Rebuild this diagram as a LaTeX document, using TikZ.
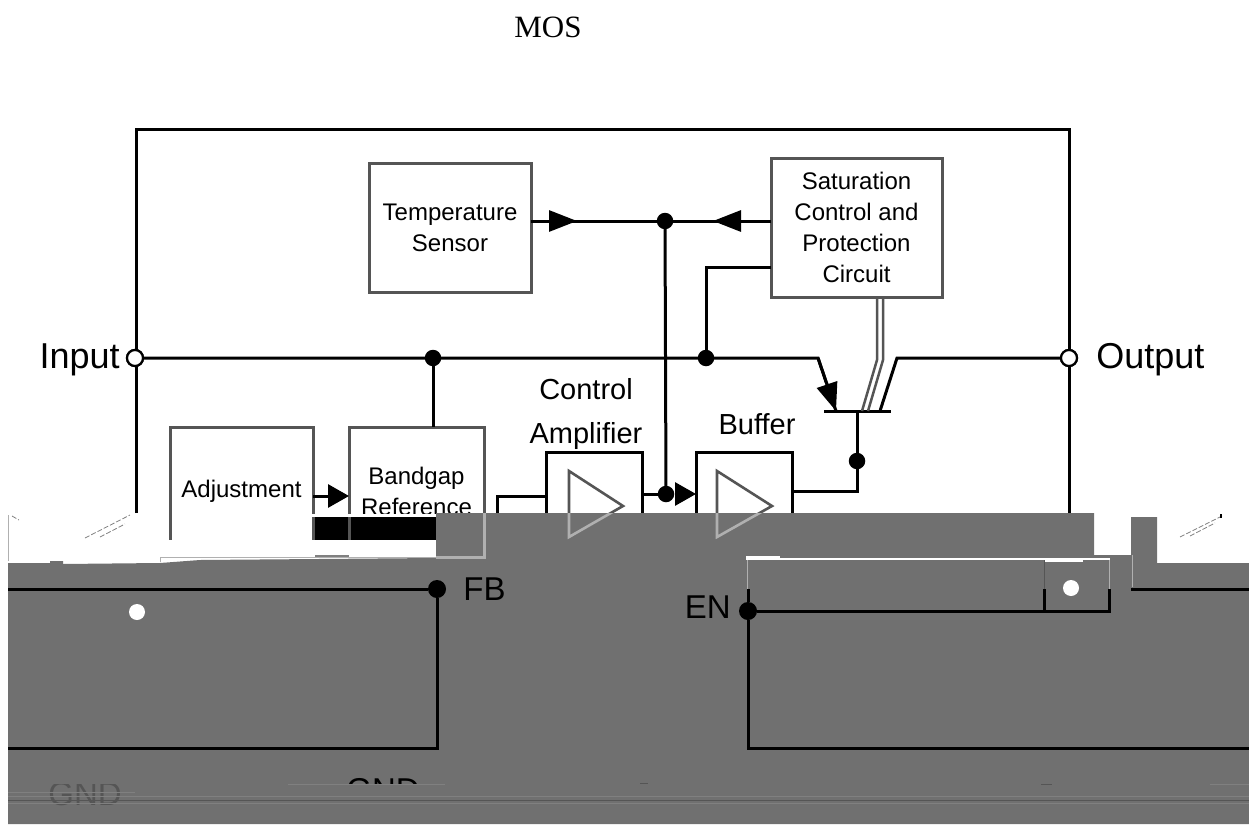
\documentclass[tikz,border=0pt]{standalone}
\usepackage{fontspec}
\setmainfont{Liberation Sans}
\newfontfamily\serifface{Liberation Serif}
\usetikzlibrary{arrows.meta,positioning}
\definecolor{boxGray}{HTML}{555555}
\definecolor{blockGray}{HTML}{707070}
\definecolor{paleGray}{HTML}{B0B0B0}
\definecolor{streakGray}{HTML}{808080}
\begin{document}
\begin{tikzpicture}[x=1pt,y=-1pt,
    boxn/.style={draw=boxGray, line width=3pt, outer sep=0pt, inner sep=0pt, align=center, font=\fontsize{24}{31}\selectfont},
    ampn/.style={draw=black, line width=3pt, outer sep=0pt, inner sep=0pt, minimum width=96pt, minimum height=108pt},
    wire/.style={line width=3pt},
    arr/.style={line width=3pt, -{Triangle[length=28pt,width=21pt]}},
    arrs/.style={line width=3pt, -{Triangle[length=21pt,width=23pt]}},
    gatel/.style={draw=boxGray, line width=2.5pt},
    tri/.style={draw=boxGray, line width=2.6pt, line join=miter},
    trilight/.style={draw=paleGray, line width=2.6pt, line join=miter},
    dotn/.style={circle, fill=black, inner sep=0pt, minimum size=16.5pt},
    bigdot/.style={circle, fill=black, inner sep=0pt, minimum size=18pt},
    pin/.style={circle, draw=black, fill=white, line width=2.2pt, inner sep=0pt, minimum size=16pt},
    holen/.style={circle, fill=white, inner sep=0pt, minimum size=16pt},
    lab/.style={inner sep=0pt, font=\fontsize{36}{40}\selectfont},
    sidelab/.style={inner sep=0pt, font=\fontsize{33}{40}\selectfont},
    amplab/.style={inner sep=0pt, align=center, font=\fontsize{29}{44}\selectfont},
    streak/.style={draw=streakGray, line width=1pt},
    speck/.style={draw=streakGray, line width=0.8pt, dash pattern=on 5pt off 2pt}
  ]
    \useasboundingbox (0,0) rectangle (1249,824);
    \node[inner sep=0pt, font=\serifface\fontsize{31}{34}\selectfont] (title) at (548,27) {MOS};
    \begin{scope}
      \clip (0,0) rectangle (1249,513);
      \node[pin] (vin) at (135,358) {};
      \node[pin] (vout) at (1069,358) {};
      \draw[wire] (136,513) -- (136,129) -- (1069,129) -- (1069,513);
      \node[pin] at (vin) {};
      \node[pin] at (vout) {};
      \node[lab, left=6pt of vin, yshift=-2pt] (inlab) {Input};
      \node[lab, right=18pt of vout, yshift=-2pt] (outlab) {Output};
      \node[boxn, minimum width=162pt, minimum height=129pt] (temp) at (450,227.5) {Temperature\\Sensor};
      \node[boxn, minimum width=171pt, minimum height=139pt, right=240pt of temp] (sat) {Saturation\\Control and\\Protection\\Circuit};
      \node[boxn, minimum width=143pt, minimum height=129pt] (adj) at (241.5,491.5) {Adjustment};
      \node[boxn, minimum width=135pt, minimum height=129pt, right=36pt of adj] (band) {Bandgap\\Reference};
      \node[ampn, right=62pt of band, yshift=-14.5pt] (ctrl) {};
      \node[ampn, right=54pt of ctrl] (buf) {};
      \node[amplab] (ctrllab) at (586,414) {Control\\Amplifier};
      \node[amplab] (buflab) at (757,424) {Buffer};
      \draw[tri] (569,471) -- (623,506) -- (569,537) -- cycle;
      \draw[tri] (717,471) -- (772,506) -- (717,537) -- cycle;
      \coordinate (bias) at (433,358);
      \coordinate (supply) at (706,358);
      \coordinate (hub) at (665,221);
      \coordinate (sum) at (666,494);
      \coordinate (bjtin) at (836,411);
      \coordinate (bjtout) at (880,411);
      \coordinate (bjtbase) at (857,411);
      \coordinate (kneeout) at (897,358);
      \coordinate (kneein) at (818,358);
      \draw[wire] (vin) -- (kneein) -- (bjtin);
      \draw[wire] (vout) -- (kneeout) -- (bjtout);
      \draw[wire] (824,411) -- (891,411);
      \draw[arr] (kneein) -- (bjtin);
      \draw[wire] (temp.east |- hub) -- (sat.west |- hub);
      \draw[arr] (temp.east |- hub) -- (577,221);
      \draw[arr] (sat.west |- hub) -- (713,221);
      \draw[wire] (hub) -- (sum);
      \draw[wire] (sat.west |- 0,267) -- (706,267) -- (supply);
      \draw[wire] (bias) -- (bias |- band.north);
      \draw[wire] (497,513) -- (497,496) -- (ctrl.west |- 0,496);
      \draw[wire] (ctrl.east |- sum) -- (sum);
      \draw[arrs] (sum) ++(9pt,0) -- (buf.west |- sum);
      \draw[arrs] (adj.east |- 0,496) -- (band.west |- 0,496);
      \draw[wire] (buf.east |- 0,491) -- (857,491) -- (bjtbase);
      \draw[gatel] (sat.south -| 877,0) -- (877,360) -- (862,411);
      \draw[gatel] (sat.south -| 883,0) -- (883,360) -- (868,411);
      \node[dotn] (d1) at (hub) {};
      \node[dotn] (d2) at (sum) {};
      \node[dotn] (d3) at (bias) {};
      \node[dotn] (d4) at (supply) {};
      \node[dotn] (d5) at (857,461) {};
    \end{scope}
    \fill[blockGray] (8,563) -- (50,563) -- (50,561) -- (63,561) -- (63,564) -- (160,563) -- (200,560) -- (436,558) -- (436,513) -- (1094,513) -- (1094,555) -- (1131,555) -- (1131,517) -- (1157,517) -- (1157,563) -- (1249,563) -- (1249,824) -- (8,824) -- cycle;
    \fill[black] (314,517) rectangle (436,540);
    \draw[draw=boxGray, line width=3pt] (170,513) -- (170,540);
    \draw[draw=boxGray, line width=3pt] (313,517) -- (313,540);
    \draw[draw=boxGray, line width=3pt] (349,517) -- (349,540);
    \draw[draw=streakGray, line width=2pt] (315,556) -- (349,556);
    \draw[draw=paleGray, line width=1pt] (160,562) -- (160,557) -- (436,557);
    \draw[draw=paleGray, line width=1pt] (8,515) -- (8,561);
    \draw[draw=paleGray, line width=3pt] (484,513) -- (484,557) -- (436,557);
    \begin{scope}
      \clip (0,513) rectangle (1249,600);
      \draw[trilight] (569,471) -- (623,506) -- (569,537) -- cycle;
      \draw[trilight] (717,471) -- (772,506) -- (717,537) -- cycle;
    \end{scope}
    \draw[draw=white, line width=4pt] (746,558) -- (780,558);
    \draw[draw=white, line width=1.5pt] (780,559) -- (1110,559);
    \draw[draw=white, line width=3pt] (1044,560) -- (1083,560);
    \draw[draw=paleGray, line width=1pt] (747,560) -- (747,589);
    \draw[draw=paleGray, line width=1pt] (1109,560) -- (1109,589);
    \draw[draw=boxGray, line width=1pt] (1044,560) -- (1044,589);
    \draw[draw=paleGray, line width=1pt] (1132,555) -- (1132,587);
    \draw[draw=white, line width=1pt] (1130,517) -- (1130,555);
    \node[bigdot] (fb) at (437,589) {};
    \node[bigdot] (en) at (748,611) {};
    \node[holen] (hole1) at (137,612) {};
    \node[holen] (hole2) at (1071,588) {};
    \node[sidelab, right=17pt of fb] (fblab) {FB};
    \node[sidelab, left=8pt of en, yshift=4pt] (enlab) {EN};
    \draw[wire] (8,589) -- (fb);
    \draw[wire] (fb) -- (437,748) -- (8,748);
    \draw[wire] (748,589) -- (en);
    \draw[wire] (en) -- (748,748) -- (1249,748);
    \draw[wire] (en) -- (1109,611) -- (1109,589);
    \draw[wire] (1044,611) -- (1044,589);
    \draw[wire] (1131,589) -- (1249,589);
    \begin{scope}
      \clip (8,784) rectangle (440,806);
      \node[sidelab, text=boxGray] (gnd1) at (85,794) {GND};
    \end{scope}
    \begin{scope}
      \clip (330,770) rectangle (440,784);
      \node[sidelab] (gnd2) at (383,790) {GND};
    \end{scope}
    \draw[streak] (288,784) -- (445,784);
    \draw[streak] (8,792) -- (135,792);
    \draw[streak] (8,796) -- (1249,796);
    \draw[draw=boxGray, line width=1pt] (8,800) -- (1249,800);
    \draw[streak] (8,803) -- (1249,803);
    \draw[streak] (1210,784) -- (1249,784);
    \draw[draw=boxGray, line width=0.8pt] (640,783) -- (648,783);
    \draw[draw=boxGray, line width=0.8pt] (1041,784) -- (1052,784);
    \draw[speck] (85,538) -- (130,515);
    \draw[speck] (100,537) -- (125,524);
    \draw[speck] (1180,537) -- (1222,516);
    \draw[speck] (1190,536) -- (1215,523);
    \draw[speck] (12,516) -- (19,520);
    \fill[black] (1220,514) rectangle (1222,518);
  \end{tikzpicture}
\end{document}
